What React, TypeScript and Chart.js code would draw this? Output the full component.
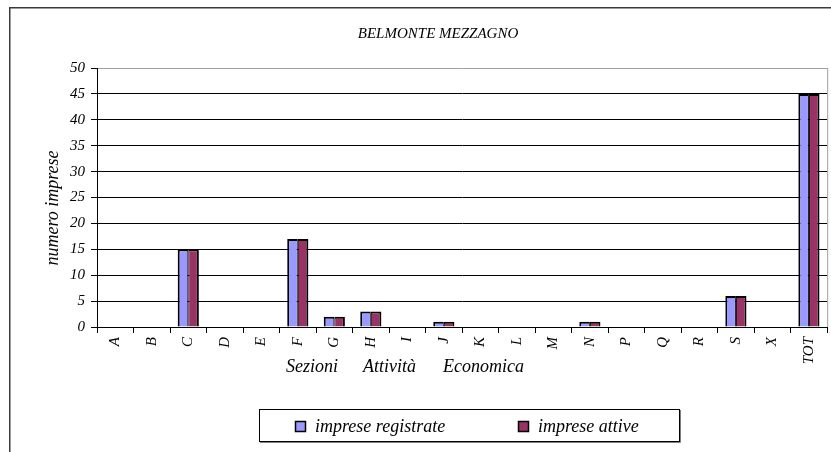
import React, { useEffect, useRef } from "react";
import { Chart, registerables } from "chart.js";

Chart.register(...registerables);

const chartTitle = "BELMONTE MEZZAGNO";
const categories = ["A", "B", "C", "D", "E", "F", "G", "H", "I", "J", "K", "L", "M", "N", "P", "Q", "R", "S", "X", "TOT"];
const impreseRegistrate = [0, 0, 15, 0, 0, 17, 2, 3, 0, 1, 0, 0, 0, 1, 0, 0, 0, 6, 0, 45];
const impreseAttive = [0, 0, 15, 0, 0, 17, 2, 3, 0, 1, 0, 0, 0, 1, 0, 0, 0, 6, 0, 45];
const seriesLabels = ["imprese registrate", "imprese attive"];
const seriesColors = ["#9999FF", "#993366"];
const xTitleWords = ["Sezioni", "Attività", "Economica"];
const yTitle = "numero imprese";

const FONT = '"Liberation Serif", "Times New Roman", serif';

const decorations = {
  id: "decorations",
  afterDraw(chart: any) {
    const ctx = chart.ctx;
    const area = chart.chartArea;
    ctx.save();
    // outer frame (top and left edges visible)
    ctx.strokeStyle = "#3a3a3a";
    ctx.lineWidth = 1.5;
    ctx.beginPath();
    ctx.moveTo(9.75, chart.height + 2);
    ctx.lineTo(9.75, 7.75);
    ctx.lineTo(chart.width + 2, 7.75);
    ctx.stroke();

    // plot-area right border (grey)
    ctx.strokeStyle = "#a0a0a0";
    ctx.lineWidth = 1;
    ctx.beginPath();
    ctx.moveTo(area.right + 0.5, area.top);
    ctx.lineTo(area.right + 0.5, area.bottom);
    ctx.stroke();

    ctx.fillStyle = "#000";
    // title
    ctx.font = `italic 15px ${FONT}`;
    ctx.textAlign = "center";
    ctx.textBaseline = "alphabetic";
    ctx.fillText(chartTitle, 438, 38);

    // x axis title
    ctx.font = `italic 18px ${FONT}`;
    ctx.textAlign = "left";
    const xs = [286, 363, 443];
    xTitleWords.forEach((w, i) => ctx.fillText(w, xs[i], 372));

    // y axis title
    ctx.save();
    ctx.translate(58, 208);
    ctx.rotate(-Math.PI / 2);
    ctx.textAlign = "center";
    ctx.fillText(yTitle, 0, 0);
    ctx.restore();

    // legend
    ctx.strokeStyle = "#000";
    ctx.lineWidth = 1;
    ctx.strokeRect(259.5, 409.5, 420, 32);
    ctx.strokeStyle = "#808080";
    ctx.beginPath();
    ctx.moveTo(680.5, 410);
    ctx.lineTo(680.5, 442.5);
    ctx.lineTo(260, 442.5);
    ctx.stroke();
    const lx = [295, 518];
    chart.data.datasets.forEach((ds: any, i: number) => {
      ctx.fillStyle = ds.backgroundColor;
      ctx.fillRect(lx[i], 421, 11, 11);
      ctx.strokeStyle = "#000";
      ctx.lineWidth = 1.5;
      ctx.strokeRect(lx[i] + 0.5, 421.5, 10, 10);
      ctx.fillStyle = "#000";
      ctx.font = `italic 18px ${FONT}`;
      ctx.textAlign = "left";
      ctx.fillText(ds.label, lx[i] + 20, 432);
    });
    ctx.restore();
  },
};

export default function App() {
  const ref = useRef<HTMLCanvasElement>(null);
  useEffect(() => {
    if (!ref.current) return;
    const chart = new Chart(ref.current, {
      type: "bar",
      data: {
        labels: categories,
        datasets: [
          {
            label: seriesLabels[0],
            data: impreseRegistrate,
            backgroundColor: seriesColors[0],
            borderColor: "#000",
            borderWidth: { top: 2, left: 2, right: 1, bottom: 0 },
            borderSkipped: false,
          },
          {
            label: seriesLabels[1],
            data: impreseAttive,
            backgroundColor: seriesColors[1],
            borderColor: "#000",
            borderWidth: { top: 2, left: 1, right: 2, bottom: 0 },
            borderSkipped: false,
          },
        ],
      },
      options: {
        animation: false,
        responsive: false,
        devicePixelRatio: 1,
        layout: { padding: { top: 68, left: 0, right: 3, bottom: 0 } },
        datasets: { bar: { categoryPercentage: 0.58, barPercentage: 1 } },
        plugins: {
          legend: { display: false },
          title: { display: false },
          tooltip: { enabled: false },
        },
        scales: {
          x: {
            afterFit: (s: any) => {
              s.height = 125;
            },
            ticks: {
              autoSkip: false,
              minRotation: 90,
              maxRotation: 90,
              color: "#000",
              padding: 4,
              font: { family: FONT, size: 15, style: "italic" },
            },
            grid: {
              offset: true,
              drawOnChartArea: false,
              drawTicks: true,
              tickLength: 6,
              tickColor: "#000",
            },
            border: { display: true, color: "#000", width: 1 },
          },
          y: {
            min: 0,
            max: 50,
            afterFit: (s: any) => {
              s.width = 97;
            },
            ticks: {
              stepSize: 5,
              color: "#000",
              padding: 6,
              font: { family: FONT, size: 15, style: "italic" },
            },
            grid: {
              color: (c: any) => (c.tick && c.tick.value === 50 ? "#a0a0a0" : "#000"),
              lineWidth: 1,
              tickLength: 6,
              tickColor: "#000",
            },
            border: { display: true, color: "#000", width: 1 },
          },
        },
      },
      plugins: [decorations],
    });
    return () => chart.destroy();
  }, []);
  return (
    <div style={{ position: "fixed", left: 0, top: 0, width: 831, height: 452, background: "#fff" }}>
      <canvas ref={ref} width={831} height={452} style={{ display: "block" }} />
    </div>
  );
}
